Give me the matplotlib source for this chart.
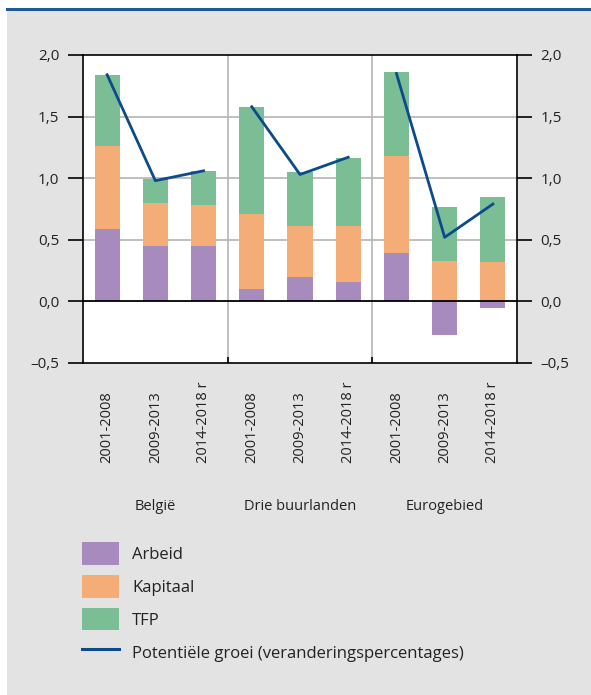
import matplotlib
matplotlib.use('Agg')
import matplotlib.pyplot as plt
import matplotlib.transforms as mtransforms
from matplotlib.patches import Patch, Rectangle
from matplotlib.lines import Line2D
import numpy as np

plt.rcParams['font.family'] = ['Open Sans', 'DejaVu Sans']

# Data
groups = ['België', 'Drie buurlanden', 'Eurogebied']
periods = ['2001-2008', '2009-2013', '2014-2018 r']
arbeid = [0.59, 0.45, 0.45, 0.10, 0.20, 0.16, 0.39, -0.27, -0.05]
kapitaal = [0.67, 0.35, 0.33, 0.61, 0.41, 0.45, 0.79, 0.33, 0.32]
tfp = [0.58, 0.19, 0.28, 0.87, 0.44, 0.55, 0.68, 0.44, 0.53]
groei = [1.84, 0.98, 1.06, 1.58, 1.03, 1.17, 1.85, 0.52, 0.79]
yticks = [-0.5, 0.0, 0.5, 1.0, 1.5, 2.0]

c_arbeid = '#a78bbf'
c_kapitaal = '#f5ad78'
c_tfp = '#7bbe95'
c_line = '#0b4a8b'
c_bg = '#e3e3e3'
c_grid = '#b4b4b4'

W, H = 591, 695
fig = plt.figure(figsize=(W / 100, H / 100), dpi=100, facecolor='white')

# grey panel and blue rule at the top
fig.patches.append(Rectangle((7 / W, 0), 1 - 7 / W, 1 - 10 / H, transform=fig.transFigure,
                             facecolor=c_bg, edgecolor='none', zorder=-5))
fig.add_artist(Line2D([7 / W, 1], [1 - 9 / H, 1 - 9 / H], transform=fig.transFigure,
                      color='#1f5a96', lw=2.2))

ax = fig.add_axes([83 / W, 1 - 363 / H, 434 / W, 308 / H])
ax.set_facecolor('white')

n = len(arbeid)
x = np.arange(n)
arb = np.array(arbeid)
kap = np.array(kapitaal)
tf = np.array(tfp)
pos_base = np.clip(arb, 0, None)

w = 0.52
ax.bar(x, arb, w, color=c_arbeid, zorder=3)
ax.bar(x, kap, w, bottom=pos_base, color=c_kapitaal, zorder=3)
ax.bar(x, tf, w, bottom=pos_base + kap, color=c_tfp, zorder=3)

for g in range(len(groups)):
    idx = slice(3 * g, 3 * g + 3)
    ax.plot(x[idx], groei[idx], color=c_line, lw=2.0, zorder=4)

ax.set_xlim(-0.5, n - 0.5)
ax.set_ylim(-0.5, 2.0)

# grid and separators
for yv in [0.5, 1.0, 1.5]:
    ax.axhline(yv, color=c_grid, lw=1.2, zorder=1)
ax.axhline(0, color='black', lw=1.3, zorder=5)
for b in [2.5, 5.5]:
    ax.axvline(b, color=c_grid, lw=1.2, zorder=1)

ax.set_xticks([2.5, 5.5])
ax.set_xticklabels([])
ax.tick_params(axis='x', direction='in', length=4, width=1.2, color='black')

ax.set_yticks(yticks)
labels = [('%.1f' % v).replace('.', ',').replace('-', '\u2013') for v in yticks]
ax.set_yticklabels(labels)
ax.tick_params(axis='y', direction='out', length=11, width=1.2, pad=6,
               labelsize=11, colors='black', left=True, right=True,
               labelleft=True, labelright=True)
ax.tick_params(axis='y', which='major', labelcolor='#222222')
for s in ax.spines.values():
    s.set_linewidth(1.2)
    s.set_zorder(6)

# period labels and group labels
trans = mtransforms.blended_transform_factory(ax.transData, fig.transFigure)
for i in range(n):
    ax.text(x[i], 1 - 463 / H, periods[i % 3], rotation=90, ha='center', va='bottom',
            fontsize=10.5, color='#222222', transform=trans, clip_on=False)
for g, name in enumerate(groups):
    ax.text(3 * g + 1, 1 - 506 / H, name, ha='center', va='center', fontsize=10.5,
            color='#222222', transform=trans, clip_on=False)

handles = [Patch(facecolor=c_arbeid, edgecolor='none'),
           Patch(facecolor=c_kapitaal, edgecolor='none'),
           Patch(facecolor=c_tfp, edgecolor='none'),
           Line2D([], [], color=c_line, lw=2.2)]
names = ['Arbeid', 'Kapitaal', 'TFP', 'Potentiële groei (veranderingspercentages)']
fig.legend(handles, names, loc='upper left', bbox_to_anchor=(82 / W, 1 - 542 / H),
           frameon=False, fontsize=12, handlelength=2.2, handleheight=1.71,
           handletextpad=0.8, labelspacing=0.62, borderpad=0, borderaxespad=0,
           labelcolor='#222222')

fig.savefig('out.png', dpi=100, facecolor=fig.get_facecolor())
